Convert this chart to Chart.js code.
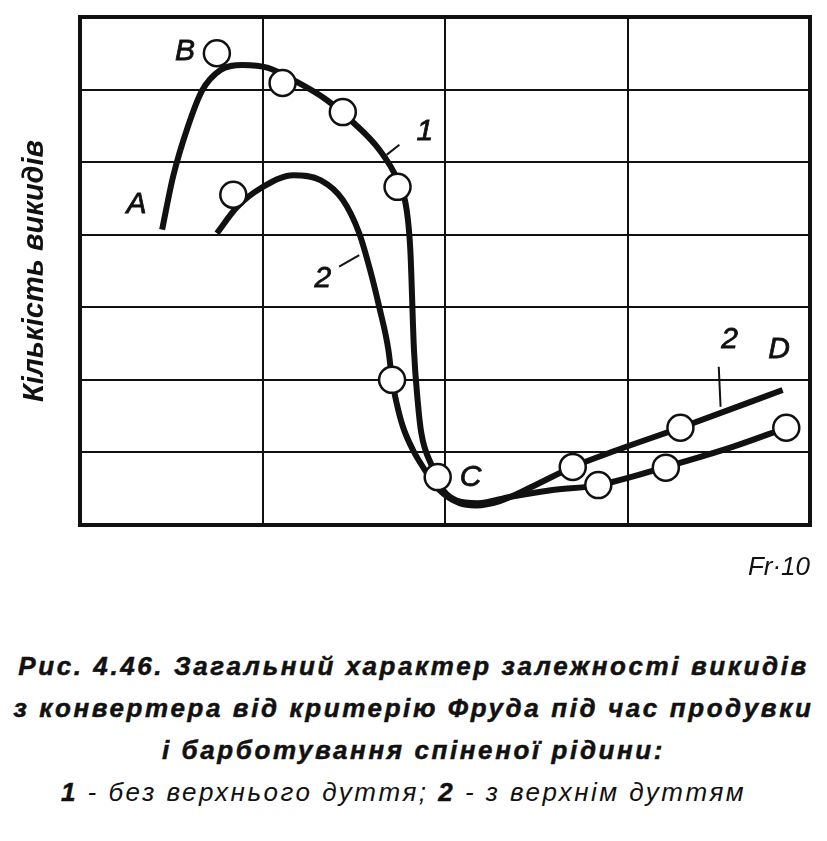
<!DOCTYPE html>
<html lang="uk">
<head>
<meta charset="utf-8" />
<title>Кількість викидів — критерій Фруда</title>
<script src="https://cdn.jsdelivr.net/npm/chart.js@4.4.0/dist/chart.umd.min.js"></script>
<style>
    body { margin: 0; background: #fff; }
    #wrap { position: relative; width: 827px; height: 600px; }
    #caption {
        position: absolute; top: 645px; left: 0; width: 827px;
        font-family: "Liberation Sans", Arial, sans-serif;
        font-style: italic; color: #111; text-align: center;
    }
    #caption div { height: 42px; line-height: 42px; font-size: 26px; white-space: nowrap; }
    #caption .b { font-weight: bold; letter-spacing: 2.6px; -webkit-text-stroke: 0.5px #111; }
    #caption .n { letter-spacing: 2.5px; padding-right: 20px; }
    #caption .n b { font-weight: bold; -webkit-text-stroke: 0.5px #111; }
</style>
</head>
<body>
<div id="wrap"><canvas id="chart"></canvas></div>
<div id="caption">
    <div class="b">Рис. 4.46. Загальний характер залежності викидів</div>
    <div class="b">з конвертера від критерію Фруда під час продувки</div>
    <div class="b">і барботування спіненої рідини:</div>
    <div class="n"><b>1</b> - без верхнього дуття; <b>2</b> - з верхнім дуттям</div>
</div>
<script>
    // curve 1: without top blowing (A - B - C - lower branch)
    const curve1X = [0.45, 0.51, 0.59, 0.67, 0.77, 0.89, 1.03, 1.17, 1.35, 1.50, 1.64, 1.74, 1.79, 1.81, 1.83, 1.85, 1.87, 1.93, 1.97, 2.06, 2.18, 2.36, 2.58, 2.84, 3.21, 3.58, 3.87];
    const curve1Y = [4.07, 4.80, 5.48, 5.99, 6.27, 6.34, 6.30, 6.13, 5.86, 5.54, 5.17, 4.75, 4.34, 3.79, 2.41, 1.72, 1.27, 0.80, 0.55, 0.34, 0.30, 0.39, 0.48, 0.55, 0.80, 1.08, 1.34];

    // curve 2: with top blowing (upper branch to D)
    const curve2X = [0.75, 0.86, 0.99, 1.17, 1.32, 1.44, 1.53, 1.59, 1.64, 1.69, 1.71, 1.735, 1.77, 1.825, 1.90, 1.97, 2.08, 2.17, 2.30, 2.47, 2.70, 2.94, 3.29, 3.85];
    const curve2Y = [4.02, 4.38, 4.64, 4.82, 4.75, 4.48, 4.02, 3.51, 3.00, 2.41, 2.00, 1.68, 1.35, 1.03, 0.72, 0.48, 0.30, 0.27, 0.33, 0.52, 0.80, 1.03, 1.34, 1.86];

    // measured points (circles)
    const points1X = [0.75, 1.11, 1.44, 1.74, 1.96, 2.84, 3.21, 3.87];
    const points1Y = [6.50, 6.09, 5.69, 4.66, 0.66, 0.55, 0.79, 1.34];
    const points2X = [0.84, 1.71, 2.70, 3.29];
    const points2Y = [4.55, 2.00, 0.80, 1.34];

    // grid: 4 columns, 7 rows
    const xTicks = [0, 1, 2, 3, 4];
    const yTicks = [0, 1, 2, 3, 4, 5, 6, 7];

    // letters and curve numbers written on the plot
    const markText = ['A', 'B', 'C', 'D', '1', '2', '2'];
    const markX = [0.31, 0.575, 2.14, 3.83, 1.89, 1.33, 3.56];
    const markY = [4.41, 6.52, 0.65, 2.41, 5.42, 3.40, 2.55];
    // short leader strokes from the numbers to their curves
    const leaders = [
        [1.68, 5.10, 1.75, 5.24],
        [1.42, 3.56, 1.53, 3.72],
        [3.50, 2.18, 3.51, 1.63]
    ];

    const zip = (xs, ys) => xs.map((x, i) => ({ x: x, y: ys[i] }));

    const lineStyle = {
        borderColor: '#111',
        borderWidth: 6,
        borderCapStyle: 'butt',
        pointRadius: 0,
        cubicInterpolationMode: 'monotone',
        fill: false,
        showLine: true,
        order: 2
    };
    const circleStyle = {
        showLine: false,
        pointRadius: 13,
        pointHoverRadius: 13,
        pointBackgroundColor: '#fff',
        pointBorderColor: '#111',
        pointBorderWidth: 2.5,
        order: 1
    };

    const plotMarks = {
        id: 'plotMarks',
        afterDraw(chart) {
            const { ctx, chartArea: a, scales: { x, y } } = chart;
            ctx.save();
            // thick frame
            ctx.strokeStyle = '#111';
            ctx.lineWidth = 4;
            ctx.strokeRect(a.left, a.top, a.right - a.left, a.bottom - a.top);
            // leaders
            ctx.lineWidth = 2;
            leaders.forEach(l => {
                ctx.beginPath();
                ctx.moveTo(x.getPixelForValue(l[0]), y.getPixelForValue(l[1]));
                ctx.lineTo(x.getPixelForValue(l[2]), y.getPixelForValue(l[3]));
                ctx.stroke();
            });
            // labels
            ctx.fillStyle = '#111';
            ctx.lineWidth = 0.8;
            ctx.font = 'italic 30px "Liberation Sans", Arial, sans-serif';
            ctx.textAlign = 'center';
            ctx.textBaseline = 'middle';
            markText.forEach((t, i) => {
                const px = x.getPixelForValue(markX[i]), py = y.getPixelForValue(markY[i]);
                ctx.fillText(t, px, py);
                ctx.strokeText(t, px, py);
            });
            ctx.restore();
        }
    };

    new Chart(document.getElementById('chart'), {
        type: 'scatter',
        data: {
            datasets: [
                Object.assign({ label: '1', data: zip(curve1X, curve1Y) }, lineStyle),
                Object.assign({ label: '2', data: zip(curve2X, curve2Y) }, lineStyle),
                Object.assign({ label: '1 точки', data: zip(points1X, points1Y) }, circleStyle),
                Object.assign({ label: '2 точки', data: zip(points2X, points2Y) }, circleStyle)
            ]
        },
        options: {
            responsive: true,
            maintainAspectRatio: false,
            animation: false,
            layout: { padding: { top: 17, right: 17, left: 0, bottom: 0 } },
            plugins: {
                legend: { display: false },
                tooltip: { enabled: false }
            },
            scales: {
                x: {
                    type: 'linear',
                    min: 0,
                    max: 4,
                    afterBuildTicks: s => { s.ticks = xTicks.map(v => ({ value: v })); },
                    afterFit: s => { s.height = 75; },
                    ticks: { display: false },
                    grid: { color: '#111', lineWidth: 2, drawTicks: false },
                    border: { display: false },
                    title: {
                        display: true,
                        text: 'Fr·10',
                        align: 'end',
                        color: '#111',
                        font: { family: '"Liberation Sans", Arial, sans-serif', size: 26, style: 'italic' },
                        padding: { top: 0, bottom: 17 }
                    }
                },
                y: {
                    type: 'linear',
                    min: 0,
                    max: 7,
                    afterBuildTicks: s => { s.ticks = yTicks.map(v => ({ value: v })); },
                    afterFit: s => { s.width = 80; },
                    ticks: { display: false },
                    grid: { color: '#111', lineWidth: 2, drawTicks: false },
                    border: { display: false },
                    title: {
                        display: true,
                        text: 'Кількість викидів',
                        color: '#111',
                        font: { family: '"Liberation Sans", Arial, sans-serif', size: 29, style: 'italic', weight: 'bold' },
                        padding: { top: 18, bottom: 0 }
                    }
                }
            }
        },
        plugins: [plotMarks]
    });
</script>
</body>
</html>
